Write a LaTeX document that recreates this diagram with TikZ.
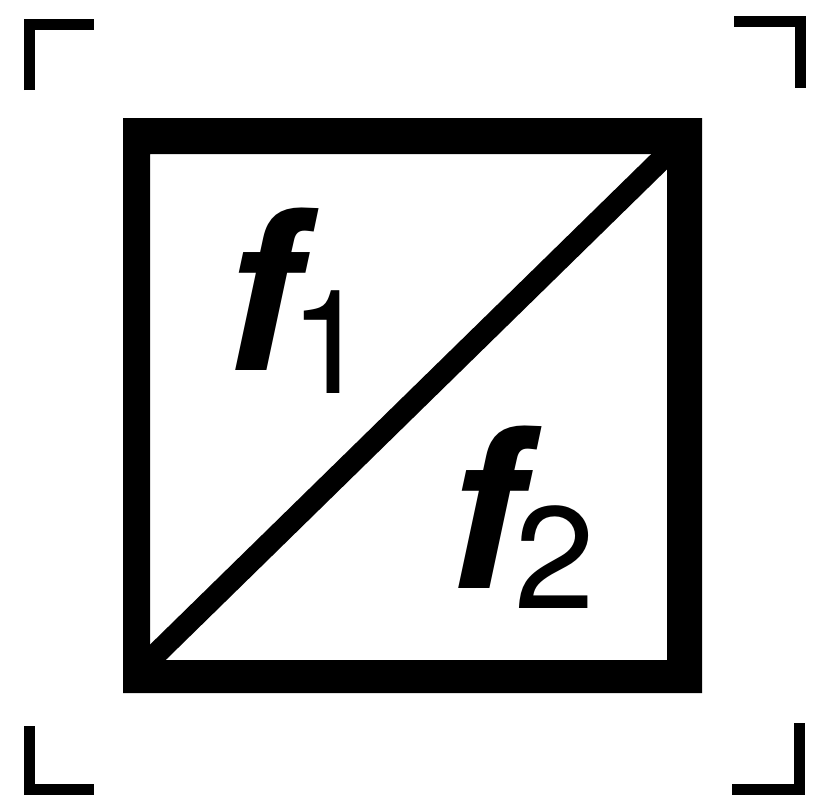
\documentclass[tikz,border=0pt]{standalone}
\usepackage{fontspec}
\setmainfont{TeX Gyre Heros}
\begin{document}
\begin{tikzpicture}[x=1pt,y=-1pt,
  cropmark/.style={line width=11pt,line join=miter,line cap=butt},
  bigf/.style={inner sep=0pt,anchor=base west,font=\fontsize{223}{223}\selectfont\bfseries\itshape},
  subdigit/.style={inner sep=0pt,anchor=base west,font=\fontsize{145}{145}\selectfont}]
\useasboundingbox (0,0) rectangle (822,795);
% crop marks
\draw[cropmark] (29.5,90) -- (29.5,24.5) -- (94,24.5);
\draw[cropmark] (734,21.5) -- (800,21.5) -- (800,88);
\draw[cropmark] (29.5,726) -- (29.5,789.5) -- (94,789.5);
\draw[cropmark] (799,723) -- (799,789) -- (732,789);
% square frame
\fill[black,even odd rule] (123,118) rectangle (702,693) (150,154) rectangle (667,660);
% diagonal
\draw[line width=22pt] (150,660) -- (667,154);
% labels
\node[bigf] (f1) at (224,370) {f};
\node[subdigit] (s1) at (289,393) {1};
\node[bigf] (f2) at (447,588) {f};
\node[subdigit] (s2) at (514,608) {2};
\end{tikzpicture}
\end{document}
